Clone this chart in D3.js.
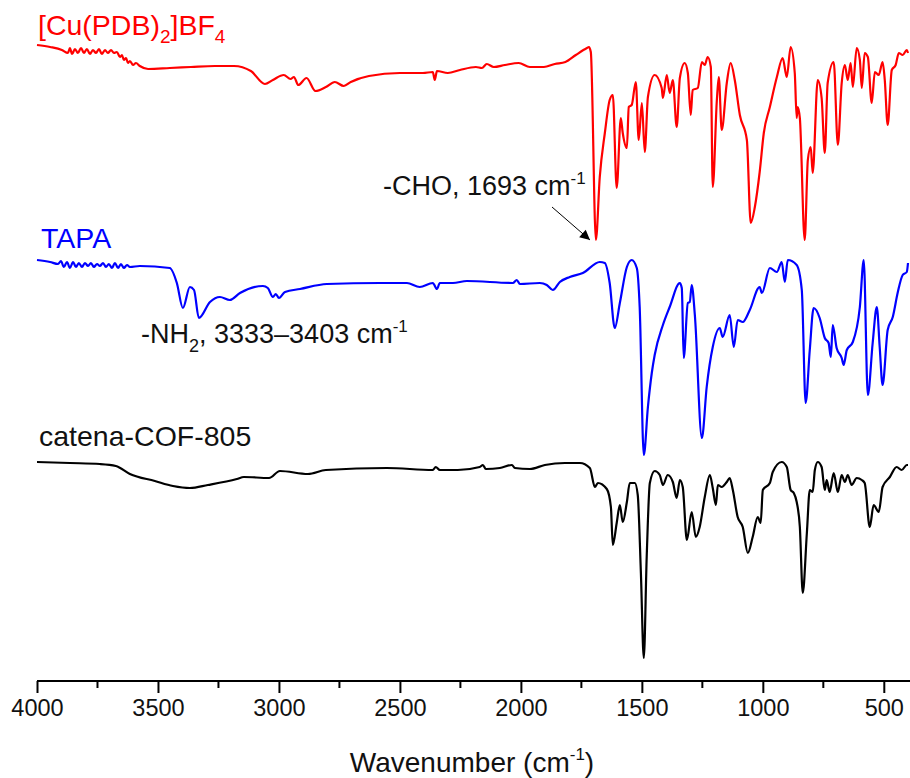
<!DOCTYPE html>
<html>
<head>
<meta charset="UTF-8">
<title>FTIR spectra</title>
<script src="https://cdn.jsdelivr.net/npm/d3@7"></script>
<style>
  body { margin: 0; background: #fff; }
  text { font-family: "Liberation Sans", Arial, sans-serif; }
</style>
</head>
<body>
<svg id="chart" width="910" height="778"></svg>
<script>
// wavenumber (cm-1) and transmittance (a.u., offset)
var redWn = [4000,3946,3897,3872,3864,3855,3843,3831,3818,3806,3794,3781,3769,3756,3744,3732,3719,3707,3694,3682,3670,3657,3649,3641,3632,3624,3616,3603,3591,3575,3541,3451,3364,3265,3186,3116,3058,3025,2980,2952,2938,2920,2886,2849,2806,2769,2732,2703,2628,2500,2405,2364,2356,2347,2302,2252,2186,2161,2141,2112,2066,2009,1963,1905,1860,1816,1773,1727,1719,1711,
  1690,1674,1653,1633,1620,1604,1587,1579,1562,1554,1542,1525,1513,1500,1488,1475,1447,1418,1413,1397,1385,1372,1356,1343,1323,1310,1298,1290,1269,1252,1240,1228,1215,1207,1190,1182,1170,1149,1133,1116,1095,1066,1050,1033,1013,996,971,942,918,901,885,868,860,856,847,827,814,802,794,773,757,744,732,707,690,674,661,649,637,628,612,599,591,579,566,550,537,521,505,496,484,467,451,438,422,405,400];
var redT = [63.6,63.4,63.1,62.8,63.3,62.7,63.2,62.8,63.3,62.8,63.2,62.7,63.1,62.8,63.2,62.7,63.1,62.8,63.1,62.8,62.9,62.4,62.6,62.1,62.3,61.8,62.0,61.6,61.8,61.5,61.2,61.3,61.4,61.5,61.5,61.0,59.7,60.1,60.6,60.2,60.4,59.6,60.3,59.0,59.4,59.9,59.5,59.9,60.5,60.8,60.8,60.9,60.1,61.0,60.8,61.1,61.4,61.3,61.7,61.4,61.6,61.8,61.4,61.4,61.7,61.9,62.6,63.3,63.4,62.9,
  44.1,50.4,54.8,58.1,58.6,49.3,56.3,54.8,53.3,57.4,57.6,59.9,54.1,57.8,52.9,58.4,60.6,59.3,58.3,60.6,58.8,60.1,55.4,60.3,61.8,60.8,56.6,59.1,59.3,61.9,61.6,62.4,61.4,49.4,58.1,60.4,55.1,59.8,61.8,60.1,56.6,54.1,45.8,47.4,50.9,54.8,57.4,60.4,62.3,60.4,63.4,60.8,56.3,57.4,56.3,44.1,52.1,53.4,50.8,60.1,58.3,52.8,59.8,61.9,53.6,59.8,61.6,60.1,61.8,59.4,63.3,62.1,59.3,62.8,62.4,57.8,60.9,60.6,61.9,60.1,55.6,61.1,61.6,62.8,62.6,63.1,62.8];

var blueWn = [4000,3946,3913,3901,3889,3876,3864,3851,3839,3827,3814,3802,3789,3777,3765,3752,3740,3727,3715,3703,3690,3678,3665,3653,3641,3628,3616,3575,3451,3422,3397,3368,3351,3331,3285,3244,3203,3161,3066,3046,3025,3013,3000,2975,2913,2802,2583,2471,2418,2364,2347,2335,2281,2223,2033,2017,2004,1922,1893,1868,1839,1798,1744,1674,1653,
  1633,1612,1591,1562,1542,1521,1509,1492,1475,1459,1447,1413,1385,1343,1335,1327,1310,1302,1294,1281,1252,1232,1207,1178,1166,1137,1120,1104,1083,1054,1013,1004,971,942,922,909,897,860,839,823,806,790,765,744,728,719,711,695,674,666,653,628,599,583,566,546,529,517,505,484,463,442,422,405,400];
var blueT = [42.1,41.9,41.7,42.0,41.4,41.9,41.3,41.9,41.4,41.8,41.4,41.8,41.5,41.8,41.4,41.7,41.5,41.8,41.4,41.7,41.3,41.8,41.3,41.7,41.3,41.6,41.4,41.5,41.3,39.8,37.3,39.4,39.1,36.3,37.9,38.4,38.1,38.8,39.5,39.3,38.4,38.7,38.3,38.9,39.2,39.7,39.8,39.8,39.4,39.8,39.2,39.8,39.8,40.0,39.8,40.1,39.7,39.8,39.6,39.1,39.9,40.4,40.8,41.9,41.8,
  39.8,35.3,37.8,41.4,42.1,41.3,37.4,22.6,27.4,30.8,32.6,35.6,37.4,39.8,39.3,32.3,37.8,37.9,39.6,36.6,24.3,29.4,33.4,35.3,34.4,36.6,33.4,36.1,35.9,37.1,39.4,38.8,41.3,40.9,41.9,39.9,42.1,41.6,39.1,27.8,33.1,37.3,36.3,34.3,33.8,32.4,35.6,33.3,32.3,31.6,33.1,33.9,37.4,42.1,28.6,33.8,37.4,33.4,29.6,35.1,36.4,38.9,40.6,40.9,41.8];

var blackWn = [4000,3864,3740,3674,3616,3513,3438,3368,3294,3174,3145,3041,2996,2880,2806,2554,2364,2352,2335,2261,2170,2157,2145,2087,2037,2025,1963,1901,1818,1756,1715,1694,1682,1645,1628,1620,1604,1591,1579,1562,1550,1529,1517,1504,1492,1480,1467,1447,1426,1413,1393,1372,1356,1343,1331,1314,1294,1277,1261,1240,1219,1207,1194,1186,1170,1149,1137,1124,1104,1083,1062,1042,1021,1009,1000,971,959,922,901,885,872,860,847,835,818,806,794,785,773,757,744,736,724,707,690,674,661,649,633,612,591,579,558,542,521,505,475,447,426,405,400];
var blackT = [21.9,21.8,21.7,21.5,20.7,20.0,19.5,19.3,19.6,20.2,20.4,20.3,21.0,20.7,21.1,21.3,21.1,21.4,21.1,21.1,21.4,21.6,21.2,21.3,21.6,21.3,21.2,21.6,21.8,21.8,21.3,19.4,19.8,19.2,17.4,13.6,15.8,17.6,15.9,17.9,19.8,19.8,18.6,10.8,2.3,12.4,19.8,21.0,20.6,19.6,20.6,19.9,18.3,20.1,19.4,14.1,16.9,14.4,15.4,18.4,20.6,19.3,17.6,19.6,19.4,19.9,20.3,19.1,16.4,15.4,12.8,14.4,16.4,15.8,19.1,19.8,20.9,21.9,21.4,19.1,18.8,17.9,15.4,8.8,14.8,19.1,18.9,21.1,21.9,21.4,19.1,20.1,18.9,20.8,18.9,20.6,19.9,20.6,19.6,20.3,20.1,19.8,15.4,17.6,16.9,19.4,20.4,21.4,21.1,21.6,21.6];

var xTicks = [4000, 3500, 3000, 2500, 2000, 1500, 1000, 500];

var svg = d3.select("#chart");

var x = d3.scaleLinear().domain([4000, 400]).range([37, 908]);
var y = d3.scaleLinear().domain([0, 68.1]).range([681, 0]);

var line = d3.line()
  .x(function(d) { return x(d[0]); })
  .y(function(d) { return y(d[1]); })
  .curve(d3.curveMonotoneX);

var series = [
  { wn: redWn, t: redT, color: "#ff0000" },
  { wn: blueWn, t: blueT, color: "#0000ff" },
  { wn: blackWn, t: blackT, color: "#000000" }
];

series.forEach(function(s) {
  svg.append("path")
    .datum(d3.zip(s.wn, s.t))
    .attr("fill", "none")
    .attr("stroke", s.color)
    .attr("stroke-width", 2.2)
    .attr("stroke-linejoin", "round")
    .attr("d", line);
});

// bottom axis
var xAxis = d3.axisBottom(x)
  .tickValues(xTicks)
  .tickSize(12)
  .tickPadding(6)
  .tickFormat(d3.format("d"));

var gx = svg.append("g")
  .attr("transform", "translate(0,681)")
  .call(xAxis);
gx.select(".domain").attr("stroke-width", 2).attr("d", "M37,0H910");
gx.selectAll(".tick line").attr("stroke-width", 2);
gx.selectAll(".tick text")
  .attr("font-size", 23.5)
  .attr("fill", "#111")
  .style("font-family", "'Liberation Sans', Arial, sans-serif");

// minor ticks
var minor = d3.range(3750, 400, -500);
gx.selectAll(".minor")
  .data(minor)
  .enter().append("line")
  .attr("class", "minor")
  .attr("x1", function(d) { return x(d); })
  .attr("x2", function(d) { return x(d); })
  .attr("y1", 0).attr("y2", 7)
  .attr("stroke", "#000")
  .attr("stroke-width", 2);

// axis title
var title = svg.append("text")
  .attr("x", 472).attr("y", 772)
  .attr("text-anchor", "middle")
  .attr("font-size", 28)
  .attr("fill", "#111");
title.append("tspan").text("Wavenumber (cm");
title.append("tspan").attr("dy", -12).attr("font-size", 17).text("-1");
title.append("tspan").attr("dy", 12).text(")");

// series labels
var redLab = svg.append("text")
  .attr("x", 38).attr("y", 35)
  .attr("font-size", 28.5)
  .attr("fill", "#ff0000");
redLab.append("tspan").text("[Cu(PDB)");
redLab.append("tspan").attr("dy", 8).attr("font-size", 19).text("2");
redLab.append("tspan").attr("dy", -8).text("]BF");
redLab.append("tspan").attr("dy", 8).attr("font-size", 19).text("4");

svg.append("text")
  .attr("x", 41).attr("y", 248)
  .attr("font-size", 28.5)
  .attr("fill", "#0000ff")
  .text("TAPA");

svg.append("text")
  .attr("x", 39).attr("y", 446)
  .attr("font-size", 28.5)
  .attr("fill", "#111")
  .text("catena-COF-805");

// annotations
var cho = svg.append("text")
  .attr("x", 383).attr("y", 195)
  .attr("font-size", 27)
  .attr("fill", "#111");
cho.append("tspan").text("-CHO, 1693 cm");
cho.append("tspan").attr("dy", -11).attr("font-size", 17).text("-1");

var nh = svg.append("text")
  .attr("x", 141).attr("y", 343)
  .attr("font-size", 27)
  .attr("fill", "#111");
nh.append("tspan").text("-NH");
nh.append("tspan").attr("dy", 9).attr("font-size", 18).text("2");
nh.append("tspan").attr("dy", -9).text(", 3333\u20133403 cm");
nh.append("tspan").attr("dy", -11).attr("font-size", 17).text("-1");

svg.append("defs").append("marker")
  .attr("id", "arrow")
  .attr("viewBox", "0 0 10 10")
  .attr("refX", 10).attr("refY", 5)
  .attr("markerWidth", 14).attr("markerHeight", 10)
  .attr("markerUnits", "userSpaceOnUse")
  .attr("orient", "auto")
  .append("path")
  .attr("d", "M0,0L10,5L0,10Z")
  .attr("fill", "#000");

svg.append("line")
  .attr("x1", 552).attr("y1", 207)
  .attr("x2", 590).attr("y2", 240)
  .attr("stroke", "#000")
  .attr("stroke-width", 1)
  .attr("marker-end", "url(#arrow)");
</script>
</body>
</html>
